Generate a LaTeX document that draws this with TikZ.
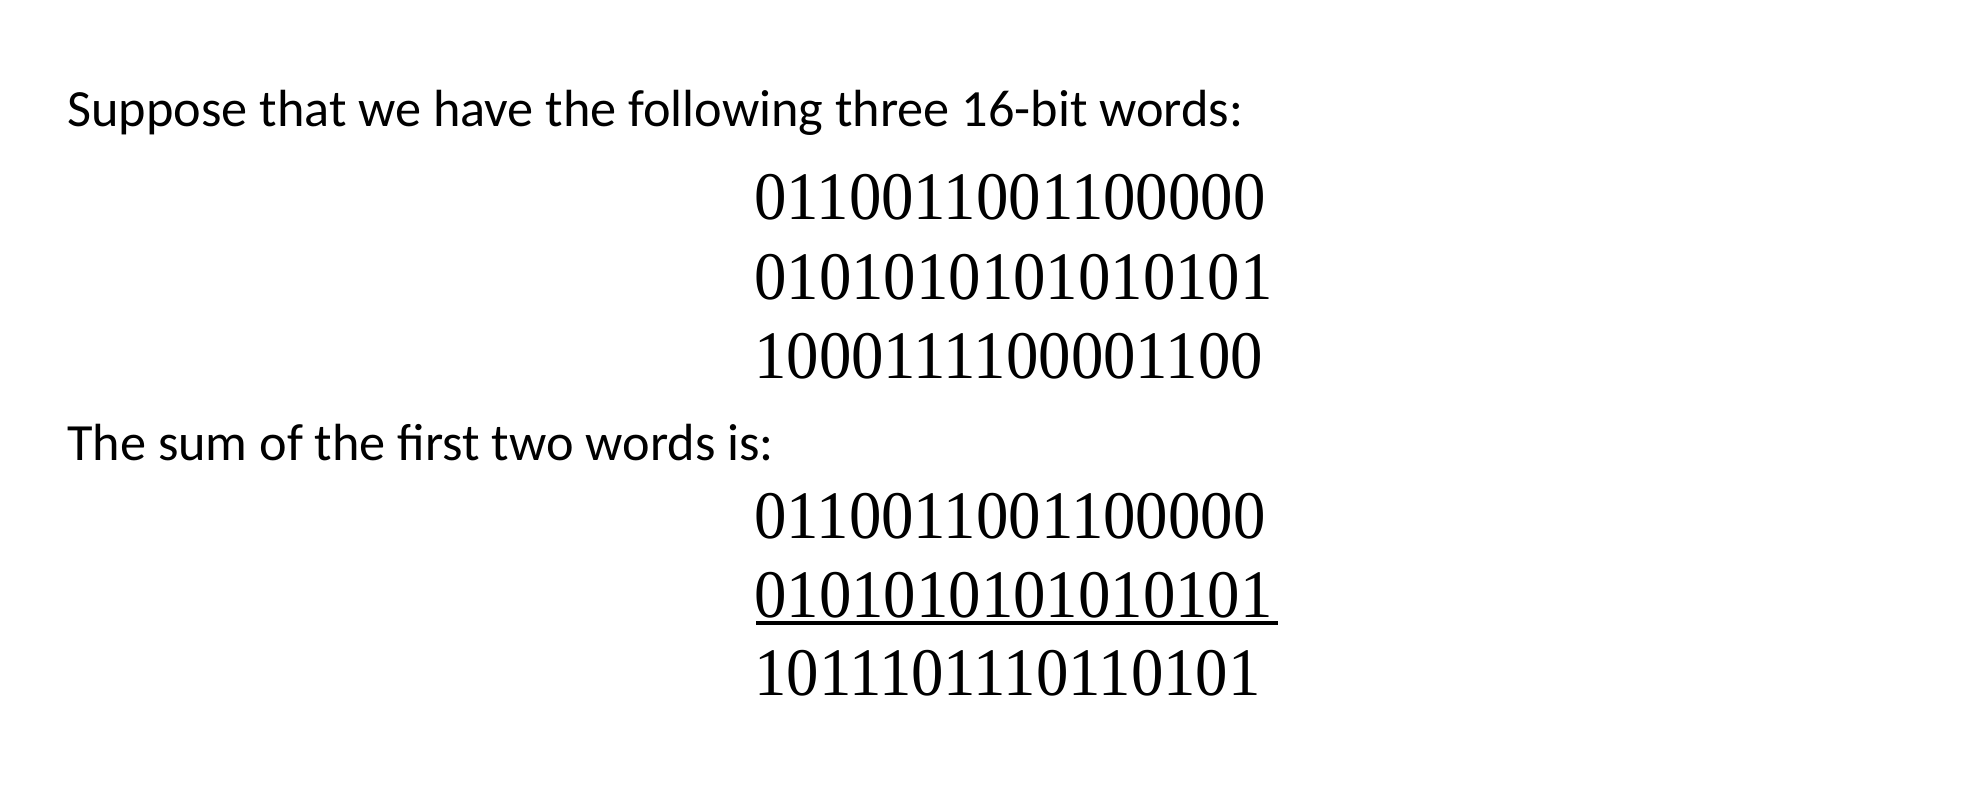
\documentclass[tikz,border=0pt]{standalone}
\usepackage{fontspec}
\setmainfont{Carlito}
\newfontfamily\bitfont[FakeStretch=0.953]{Liberation Serif}
\usepackage{tikz}

\begin{document}
\begin{tikzpicture}[x=0.02cm,y=-0.02cm]
                    \useasboundingbox (0,0) rectangle (1970,800);
                    {\fontsize{29.75}{36}\selectfont

                    % Writing the two text lines
                    \node [anchor=base west, inner sep=0pt] (intro) at (67,127) {Suppose that we have the following three 16-bit words:};%
                    \node [anchor=base west, inner sep=0pt] (sumtext) at (67,460) {The sum of the first two words is:};%
                    }
                    {\bitfont\fontsize{38.7}{46}\selectfont

                    % Writing the three words
                    \node [anchor=base west, inner sep=0pt] (wordA) at (754,220) {0110011001100000};%
                    \node [anchor=base west, inner sep=0pt] (wordB) at (754,300) {0101010101010101};%
                    \node [anchor=base west, inner sep=0pt] (wordC) at (754,378) {1000111100001100};%

                    % Writing the sum of the first two words
                    \node [anchor=base west, inner sep=0pt] (addA) at (754,538) {0110011001100000};%
                    \node [anchor=base west, inner sep=0pt] (addB) at (754,617) {0101010101010101};%
                    \node [anchor=base west, inner sep=0pt] (total) at (754,695) {1011101110110101};%
                    }

                    % Drawing the sum line
                    \coordinate (lineL) at (756,623);
                    \coordinate (lineR) at (1278,623);
                    \draw [line width=0.07cm] (lineL) -- (lineR);%
\end{tikzpicture}
\end{document}
